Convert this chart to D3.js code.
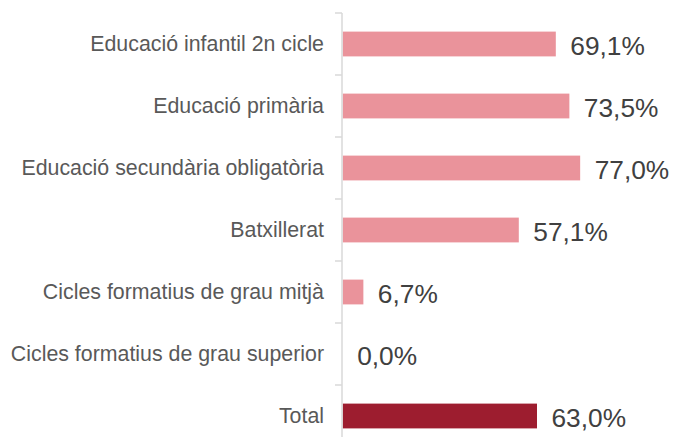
<!DOCTYPE html>
<html>
<head>
<meta charset="utf-8">
<script src="https://cdn.jsdelivr.net/npm/d3@7"></script>
<style>
html,body{margin:0;padding:0;background:#fff;}
svg{display:block;}
</style>
</head>
<body>
<svg id="chart" width="673" height="437"></svg>
<script>
const categories = [
  "Educació infantil 2n cicle",
  "Educació primària",
  "Educació secundària obligatòria",
  "Batxillerat",
  "Cicles formatius de grau mitjà",
  "Cicles formatius de grau superior",
  "Total"
];
const values = [69.1, 73.5, 77.0, 57.1, 6.7, 0.0, 63.0];
const valueLabels = ["69,1%", "73,5%", "77,0%", "57,1%", "6,7%", "0,0%", "63,0%"];
const highlight = ["Total"];

const svg = d3.select("#chart");
const x = d3.scaleLinear().domain([0, 100]).range([342.7, 651.1]);
const y = d3.scaleBand().domain(categories).range([13, 447]).paddingInner(0.6).paddingOuter(0.3);

const data = categories.map((c, i) => ({c, v: values[i], l: valueLabels[i]}));

// bars
svg.append("g").selectAll("rect").data(data).join("rect")
  .attr("x", x(0))
  .attr("y", d => y(d.c))
  .attr("width", d => x(d.v) - x(0))
  .attr("height", y.bandwidth())
  .attr("fill", d => highlight.includes(d.c) ? "#9D1D2F" : "#EA939B");

// axis line and boundary ticks
const axisG = svg.append("g");
const step = y.step();
const r = y.range();
axisG.append("line")
  .attr("x1", 342).attr("x2", 342)
  .attr("y1", r[0]).attr("y2", r[1])
  .attr("stroke", "#d9d9d9").attr("stroke-width", 1.5);
const bounds = d3.range(categories.length + 1).map(i => r[0] + i * step);
axisG.selectAll("line.tick").data(bounds).join("line")
  .attr("class", "tick")
  .attr("x1", 335).attr("x2", 342)
  .attr("y1", d => d).attr("y2", d => d)
  .attr("stroke", "#d9d9d9").attr("stroke-width", 1.5);

// category labels
svg.append("g").selectAll("text").data(data).join("text")
  .attr("x", 324)
  .attr("y", d => y(d.c) + y.bandwidth() / 2)
  .attr("dy", "0.35em")
  .attr("text-anchor", "end")
  .attr("font-family", "Liberation Sans, Arial, sans-serif")
  .attr("font-size", 21.35)
  .attr("fill", "#595959")
  .text(d => d.c);

// value labels
svg.append("g").selectAll("text").data(data).join("text")
  .attr("x", d => x(d.v) + 14.5)
  .attr("y", d => y(d.c) + y.bandwidth() / 2 + 2)
  .attr("dy", "0.35em")
  .attr("text-anchor", "start")
  .attr("font-family", "Liberation Sans, Arial, sans-serif")
  .attr("font-size", 26.3)
  .attr("fill", "#404040")
  .text(d => d.l);
</script>
</body>
</html>
